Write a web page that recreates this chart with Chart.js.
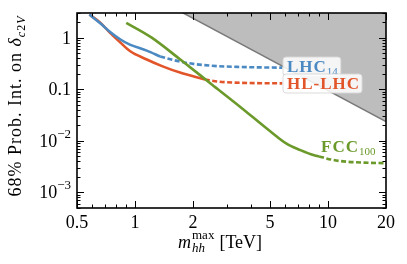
<!DOCTYPE html>
<html>
<head>
<meta charset="utf-8">
<script src="https://cdn.jsdelivr.net/npm/chart.js@4/dist/chart.umd.min.js"></script>
<style>
html, body { margin: 0; padding: 0; background: #fff; }
#wrap { width: 407px; height: 264px; }
</style>
</head>
<body>
<div id="wrap"><canvas id="c"></canvas></div>
<script>
// values (m_hh max in TeV, 68% interval on delta_c2V)
var lhcX = [0.58, 0.66, 0.74, 0.84, 0.94, 1.15, 1.35];
var lhcY = [2.8, 1.9, 1.3, 0.92, 0.73, 0.56, 0.43];
var lhcDashX = [1.35, 1.7, 2.0, 2.5, 3.5, 4.5, 5.8];
var lhcDashY = [0.43, 0.345, 0.31, 0.285, 0.27, 0.265, 0.262];

var hlX = [0.58, 0.66, 0.74, 0.84, 0.94, 1.15, 1.39, 1.71, 2.3];
var hlY = [2.8, 1.94, 1.25, 0.8, 0.55, 0.377, 0.277, 0.21, 0.155];
var hlDashX = [2.3, 2.6, 3.2, 4.5, 5.8];
var hlDashY = [0.155, 0.143, 0.135, 0.131, 0.13];

var fccX = [0.9, 1.22, 1.71, 2.5, 3.5, 5, 6.1, 7.2, 8.4, 9];
var fccY = [1.94, 1.0, 0.38, 0.124, 0.046, 0.0155, 0.0088, 0.0066, 0.0053, 0.005];
var fccDashX = [9, 10.5, 12, 15, 20];
var fccDashY = [0.005, 0.0043, 0.004, 0.0038, 0.0037];

// excluded region edge
var shadeX = [1.5, 20];
var shadeY = [4.2, 0.0235];

var xTicks = [0.5, 1, 2, 5, 10, 20];
var xTickLabels = ['0.5', '1', '2', '5', '10', '20'];
var xMinor = [0.6, 0.7, 0.8, 0.9, 3, 4, 6, 7, 8, 9];
var yTicks = [1, 0.1, 0.01, 0.001];
var yTickLabels = [['1', ''], ['0.1', ''], ['10', '\u22122'], ['10', '\u22123']];

var blue = '#4a89c2';
var orange = '#e2552a';
var green = '#6b9a2b';
var FONT = '"Liberation Serif", "Times New Roman", serif';

function pts(xs, ys) {
    return xs.map(function (x, i) { return {x: x, y: ys[i]}; });
}

function line(data, color, dashed, order) {
    return {
        data: data,
        borderColor: color,
        borderWidth: 2.6,
        borderDash: dashed ? [5, 2.5] : [],
        pointRadius: 0,
        fill: false,
        cubicInterpolationMode: 'monotone',
        clip: 0,
        order: order
    };
}

function rich(ctx, parts, x, y, align) {
    var w = 0;
    parts.forEach(function (p) { ctx.font = p[1]; w += ctx.measureText(p[0]).width; });
    var cx = align === 'center' ? x - w / 2 : (align === 'right' ? x - w : x);
    parts.forEach(function (p) {
        ctx.font = p[1];
        ctx.fillText(p[0], cx, y + (p[2] || 0));
        cx += ctx.measureText(p[0]).width;
    });
    return w;
}

var decor = {
    id: 'decor',
    afterDraw: function (chart) {
        var ctx = chart.ctx, a = chart.chartArea;
        var xs = chart.scales.x, ys = chart.scales.y;
        ctx.save();

        // inward ticks on all four sides
        ctx.strokeStyle = '#000';
        ctx.lineWidth = 1;
        ctx.beginPath();
        function xt(v, len) {
            var p = Math.round(xs.getPixelForValue(v)) + 0.5;
            ctx.moveTo(p, a.bottom); ctx.lineTo(p, a.bottom - len);
            ctx.moveTo(p, a.top); ctx.lineTo(p, a.top + len);
        }
        function yt(v, len) {
            if (v < ys.min || v > ys.max) return;
            var p = Math.round(ys.getPixelForValue(v)) + 0.5;
            ctx.moveTo(a.left, p); ctx.lineTo(a.left + len, p);
            ctx.moveTo(a.right, p); ctx.lineTo(a.right - len, p);
        }
        xTicks.forEach(function (v) { xt(v, 7); });
        xMinor.forEach(function (v) { xt(v, 3.5); });
        [1e-4, 1e-3, 1e-2, 0.1, 1].forEach(function (d) {
            yt(d, 7);
            for (var m = 2; m <= 9; m++) yt(m * d, 3.5);
        });
        ctx.stroke();

        ctx.lineWidth = 1.6;
        ctx.strokeRect(a.left, a.top, a.width, a.height);

        ctx.fillStyle = '#000';
        ctx.textBaseline = 'alphabetic';
        ctx.textAlign = 'left';

        // x tick labels
        xTicks.forEach(function (v, i) {
            rich(ctx, [[xTickLabels[i], '18px ' + FONT]], xs.getPixelForValue(v), a.bottom + 20, 'center');
        });

        // y tick labels with exponents
        yTicks.forEach(function (v, i) {
            var p = ys.getPixelForValue(v);
            var lab = yTickLabels[i];
            rich(ctx, [[lab[0], '18px ' + FONT], [lab[1], '13px ' + FONT, -9]], a.left - 6, p + 6, 'right');
        });

        // x title
        ctx.font = 'italic 18px ' + FONT;
        var x0 = 178, by = 248;
        ctx.fillText('m', x0, by);
        x0 += ctx.measureText('m').width + 1;
        ctx.font = 'italic 13px ' + FONT;
        ctx.fillText('hh', x0, by + 4);
        var w1 = ctx.measureText('hh').width;
        ctx.font = '13px ' + FONT;
        ctx.fillText('max', x0, by - 9);
        var w2 = ctx.measureText('max').width;
        x0 += Math.max(w1, w2) + 5;
        ctx.font = '18px ' + FONT;
        ctx.fillText('[TeV]', x0, by);

        // y title
        ctx.save();
        ctx.translate(21, 106);
        ctx.rotate(-Math.PI / 2);
        ctx.letterSpacing = '1px';
        rich(ctx, [['68% Prob. Int. on ', '18px ' + FONT], ['\u03b4', 'italic 18px ' + FONT],
                   ['c', 'italic 12px ' + FONT, 4], ['2', '12px ' + FONT, 4], ['V', 'italic 12px ' + FONT, 4]], 0, 0, 'center');
        ctx.restore();

        // curve labels
        function tag(main, sub, color, x, y, box) {
            ctx.letterSpacing = '1px';
            ctx.font = 'bold 17px ' + FONT;
            var w = ctx.measureText(main).width;
            ctx.letterSpacing = '0px';
            ctx.font = '11px ' + FONT;
            var ws = sub ? ctx.measureText(sub).width + 1 : 0;
            if (box) {
                ctx.fillStyle = 'rgba(255,255,255,0.85)';
                ctx.strokeStyle = 'rgba(215,215,215,0.9)';
                ctx.lineWidth = 1;
                ctx.beginPath();
                ctx.roundRect(x - 4, y - 15, w + ws + 6, 19, 3);
                ctx.fill();
                ctx.stroke();
            }
            ctx.fillStyle = color;
            ctx.letterSpacing = '1px';
            ctx.font = 'bold 17px ' + FONT;
            ctx.fillText(main, x, y);
            ctx.letterSpacing = '0px';
            if (sub) {
                ctx.font = '11px ' + FONT;
                ctx.fillText(sub, x + w, y + 3);
            }
        }
        tag('LHC', '14', blue, 287, 72, true);
        tag('HL-LHC', '', orange, 287, 89, true);
        tag('FCC', '100', green, 321, 152, false);

        ctx.restore();
    }
};

var ctx = document.getElementById('c');

var chart = new Chart(ctx, {
    type: 'line',
    data: {
        datasets: [
            line(pts(lhcX, lhcY), blue, false, 1),
            line(pts(lhcDashX, lhcDashY), blue, true, 1),
            line(pts(hlX, hlY), orange, false, 2),
            line(pts(hlDashX, hlDashY), orange, true, 2),
            line(pts(fccX, fccY), green, false, 0),
            line(pts(fccDashX, fccDashY), green, true, 0),
            {
                data: pts(shadeX, shadeY),
                borderColor: '#7a7a7a',
                borderWidth: 1.5,
                backgroundColor: '#bdbdbd',
                pointRadius: 0,
                fill: 'end',
                clip: 0,
                order: 10
            }
        ]
    },
    options: {
        responsive: true,
        maintainAspectRatio: false,
        animation: false,
        layout: { padding: { top: 13, right: 21, left: 0, bottom: 0 } },
        plugins: { legend: { display: false }, tooltip: { enabled: false } },
        scales: {
            x: {
                type: 'logarithmic',
                min: 0.5,
                max: 20,
                grid: { display: false, drawTicks: false },
                border: { display: false },
                afterFit: function (s) { s.height = 56; },
                ticks: { display: false }
            },
            y: {
                type: 'logarithmic',
                min: 5e-4,
                max: 3,
                grid: { display: false, drawTicks: false },
                border: { display: false },
                afterFit: function (s) { s.width = 77; },
                ticks: { display: false }
            }
        }
    },
    plugins: [decor]
});
</script>
</body>
</html>
